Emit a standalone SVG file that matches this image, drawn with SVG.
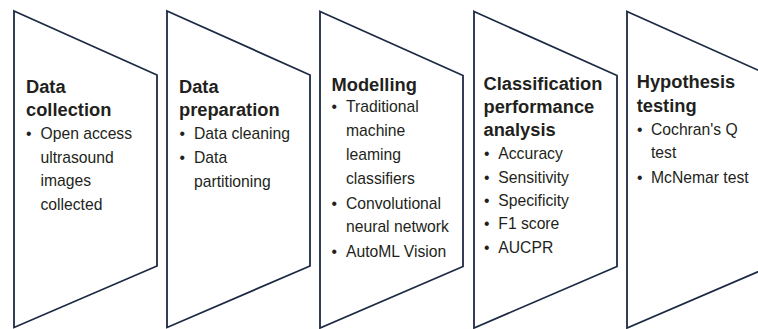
<svg xmlns="http://www.w3.org/2000/svg" width="758" height="329" viewBox="0 0 758 329">
  <style>
    .stage { fill: #ffffff; stroke: #1d2a44; stroke-width: 1.8; stroke-linejoin: miter; }
    .title { font-family: "Liberation Sans", Arial, sans-serif; font-weight: bold; font-size: 18.3px; fill: #231f20; }
    .item { font-family: "Liberation Sans", Arial, sans-serif; font-size: 15.7px; fill: #231f20; }
  </style>
  <defs>
    <!-- one stage outline: tall left edge, top and bottom slanting in to a shorter right edge -->
    <polygon id="stageShape" class="stage" points="0,0 143,64 143,255 0,316.5"/>
  </defs>

  <g id="connectors"/>

  <g id="data-collection">
    <use href="#stageShape" x="14" y="11"/>
    <text class="title" x="26" y="93">Data</text>
    <text class="title" x="26" y="116">collection</text>
    <text class="item" x="26" y="139">•</text>
    <text class="item" x="40.5" y="139">Open access</text>
    <text class="item" x="40.5" y="162.7">ultrasound</text>
    <text class="item" x="40.5" y="186.3">images</text>
    <text class="item" x="40.5" y="210">collected</text>
  </g>

  <g id="data-preparation">
    <use href="#stageShape" x="167" y="11"/>
    <text class="title" x="179" y="93">Data</text>
    <text class="title" x="179" y="116">preparation</text>
    <text class="item" x="179.5" y="139.3">•</text>
    <text class="item" x="194" y="139.3">Data cleaning</text>
    <text class="item" x="179.5" y="162.7">•</text>
    <text class="item" x="194" y="162.7">Data</text>
    <text class="item" x="194" y="186.5">partitioning</text>
  </g>

  <g id="modelling">
    <use href="#stageShape" x="320" y="11.5"/>
    <text class="title" x="331.5" y="90.5">Modelling</text>
    <text class="item" x="331.5" y="112.3">•</text>
    <text class="item" x="346" y="112.3">Traditional</text>
    <text class="item" x="346" y="136">machine</text>
    <text class="item" x="346" y="160">leaming</text>
    <text class="item" x="346" y="184">classifiers</text>
    <text class="item" x="331.5" y="208.5">•</text>
    <text class="item" x="346" y="208.5">Convolutional</text>
    <text class="item" x="346" y="232.3">neural network</text>
    <text class="item" x="331.5" y="256.5">•</text>
    <text class="item" x="346" y="256.5">AutoML Vision</text>
  </g>

  <g id="classification-performance-analysis">
    <use href="#stageShape" x="474" y="11.5"/>
    <text class="title" x="483.5" y="90">Classification</text>
    <text class="title" x="483.5" y="113">performance</text>
    <text class="title" x="483.5" y="136">analysis</text>
    <text class="item" x="484" y="159.3">•</text>
    <text class="item" x="498.3" y="159.3">Accuracy</text>
    <text class="item" x="484" y="182.7">•</text>
    <text class="item" x="498.3" y="182.7">Sensitivity</text>
    <text class="item" x="484" y="206">•</text>
    <text class="item" x="498.3" y="206">Specificity</text>
    <text class="item" x="484" y="229.3">•</text>
    <text class="item" x="498.3" y="229.3">F1 score</text>
    <text class="item" x="484" y="253">•</text>
    <text class="item" x="498.3" y="253">AUCPR</text>
  </g>

  <g id="hypothesis-testing">
    <use href="#stageShape" x="627" y="11.5"/>
    <text class="title" x="636.7" y="88.3">Hypothesis</text>
    <text class="title" x="636.7" y="111.7">testing</text>
    <text class="item" x="637" y="135">•</text>
    <text class="item" x="651" y="135">Cochran's Q</text>
    <text class="item" x="651" y="158.3">test</text>
    <text class="item" x="637" y="183.3">•</text>
    <text class="item" x="651" y="183.3">McNemar test</text>
  </g>
</svg>
